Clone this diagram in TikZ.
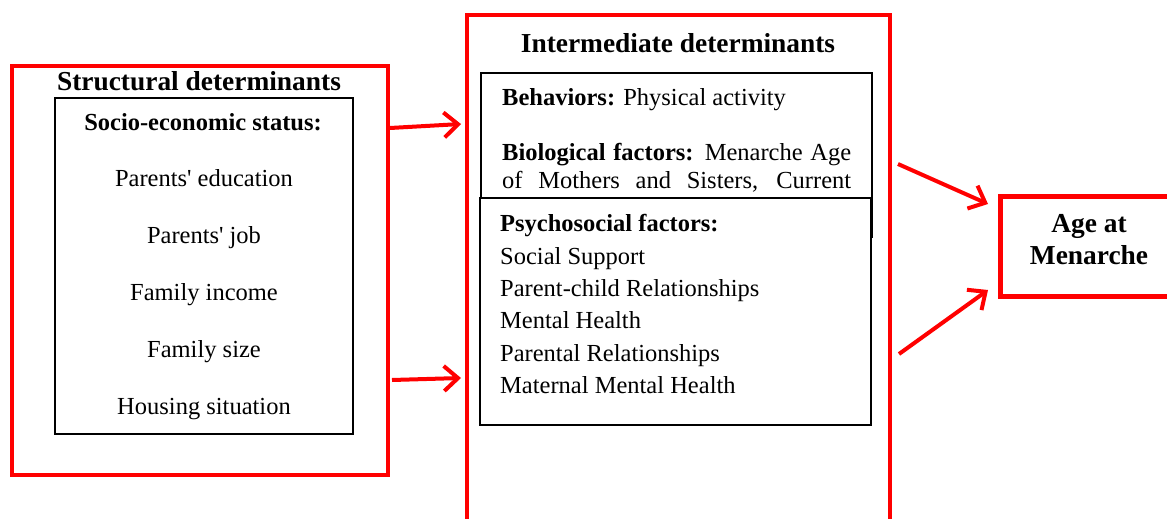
\documentclass[tikz,border=0pt]{standalone}
\usepackage{fontspec}
\setmainfont{Liberation Serif}
\usetikzlibrary{arrows.meta}
\definecolor{pured}{RGB}{255,0,0}
\tikzset{
  redbox/.style={draw=pured, line width=4pt},
  blackbox/.style={draw=black, line width=1.5pt},
  head/.style={inner sep=0pt, anchor=base, font=\fontsize{27.4}{32}\selectfont\bfseries},
  item/.style={inner sep=0pt, anchor=base, font=\fontsize{24.5}{29}\selectfont},
  litem/.style={item, anchor=base west},
  redarrow/.style={draw=pured, line width=4pt, -{Straight Barb[length=14pt,width=25pt,line width=4pt]}}
}
\begin{document}
\begin{tikzpicture}[x=1pt,y=-1pt]
\useasboundingbox (0,0) rectangle (1167,519);
\fill[white] (0,0) rectangle (1167,519);
% left group
\draw[redbox] (12,66) rectangle (388,475);
\node[head] (sdtitle) at (199,90.7) {Structural determinants};
\draw[blackbox] (55,98) rectangle (353,434);
\node[item, font=\fontsize{24.5}{29}\selectfont\bfseries] (ses) at (203,130) {Socio-economic status:};
\node[item] (pe) at (204,186.7) {Parents\textquotesingle\ education};
\node[item] (pj) at (204,243.5) {Parents\textquotesingle\ job};
\node[item] (fi) at (204,300.3) {Family income};
\node[item] (fs) at (204,357.2) {Family size};
\node[item] (hs) at (204,414) {Housing situation};
% middle group
\draw[redbox] (467,15) rectangle (890,540);
\node[head] (idtitle) at (678,52.7) {Intermediate determinants};
\draw[blackbox] (481,73) rectangle (872,237);
\node[litem] (beh) at (502,105) {\textbf{Behaviors:} Physical activity};
\node[litem] (bio1) at (502,160) {\makebox[349pt][s]{\textbf{Biological factors:} Menarche Age}};
\node[litem] (bio2) at (502,188.3) {\makebox[349pt][s]{of Mothers and Sisters, Current}};
\draw[blackbox, fill=white] (480,198) rectangle (871,425);
\node[litem, font=\fontsize{24.5}{29}\selectfont\bfseries] (psy) at (500,231.7) {Psychosocial factors:};
\node[litem] (ss) at (500,264) {Social Support};
\node[litem] (pc) at (500,296.4) {Parent-child Relationships};
\node[litem] (mh) at (500,328.7) {Mental Health};
\node[litem] (pr) at (500,361) {Parental Relationships};
\node[litem] (mm) at (500,393.3) {Maternal Mental Health};
% outcome
\draw[redbox, line width=5pt] (1000,196) rectangle (1190,296);
\node[head] (age1) at (1089,232.7) {Age at};
\node[head] (age2) at (1089,264.3) {Menarche};
% arrows
\coordinate (a1s) at (390,128); \coordinate (a1e) at (461,124);
\coordinate (a2s) at (392,380); \coordinate (a2e) at (461,378);
\coordinate (a3s) at (898,164); \coordinate (a3e) at (988,204);
\coordinate (a4s) at (899,354); \coordinate (a4e) at (988,290);
\draw[redarrow] (a1s) -- (a1e);
\draw[redarrow] (a2s) -- (a2e);
\draw[redarrow] (a3s) -- (a3e);
\draw[redarrow] (a4s) -- (a4e);
\end{tikzpicture}
\end{document}
